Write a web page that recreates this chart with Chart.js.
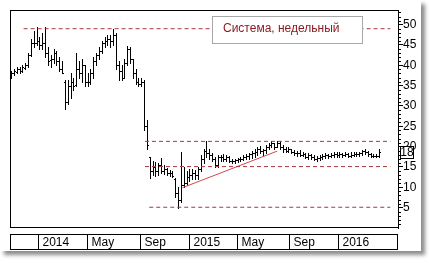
<!DOCTYPE html>
<html>
<head>
<meta charset="utf-8">
<script src="https://cdn.jsdelivr.net/npm/chart.js@4.4.1/dist/chart.umd.min.js"></script>
<style>
  body { margin: 0; background: #fff; }
  #panel { position: absolute; left: 0; top: 0; width: 421px; height: 251px; background: #fff; box-shadow: 4px 4px 4px rgba(0,0,0,0.45); }
  canvas { display: block; }
</style>
</head>
<body>
<div id="panel"><canvas id="chart" width="421" height="251"></canvas></div>
<script>
// weekly bars, one entry per week (index 0 = end of Oct 2013)
var opens = [37.8,38.0,38.3,39.0,38.6,39.4,40.0,42.6,45.4,45.6,
  46.0,45.0,45.5,43.0,41.2,41.5,43.0,41.0,39.0,36.0,
  31.0,35.0,36.0,35.2,39.0,38.0,40.0,36.0,36.0,38.0,
  41.0,42.5,43.5,45.5,46.0,46.5,46.0,47.5,40.0,38.5,
  37.0,40.5,44.0,41.5,38.0,36.0,35.5,36.0,25.0,17.5,
  14.0,15.0,14.0,15.5,14.0,14.5,13.5,13.5,12.0,8.5,
  7.0,10.5,11.0,12.5,13.0,13.5,13.0,14.5,17.0,19.0,
  18.5,18.0,17.0,15.5,17.5,17.5,17.0,17.5,16.5,16.5,
  16.8,17.0,17.0,17.5,17.8,18.2,18.5,18.8,19.5,19.0,
  19.3,20.0,20.5,21.0,20.0,20.8,20.0,19.5,19.0,19.5,
  18.8,18.5,18.5,18.0,18.3,17.5,18.0,17.5,17.0,17.2,
  17.5,17.8,18.0,17.8,18.0,18.2,18.0,18.3,18.0,18.2,
  17.8,18.0,18.3,18.2,18.5,19.0,18.8,18.2,17.8,17.8,
  17.6];
var highs = [38.6,39.0,39.5,39.5,40.0,40.5,43.0,46.5,48.5,49.3,
  47.0,48.0,49.3,44.5,42.5,44.0,43.5,42.0,41.0,36.5,
  36.5,38.0,37.0,43.0,41.0,41.5,40.2,38.0,39.0,42.0,
  43.0,44.5,46.0,47.0,47.5,47.5,49.0,48.0,41.0,40.0,
  41.5,44.7,44.5,41.5,39.0,37.0,37.0,36.5,26.5,17.5,
  16.5,16.2,16.0,17.3,15.5,14.8,14.2,14.0,12.2,10.0,
  18.6,15.0,14.0,14.5,14.5,14.2,15.0,18.0,19.5,21.3,
  19.5,18.5,17.5,18.0,18.0,18.3,18.0,17.8,17.0,17.0,
  17.3,17.5,18.0,18.3,18.5,19.0,19.5,20.0,20.2,19.5,
  20.5,21.0,21.3,21.0,21.5,21.3,20.5,20.0,19.8,19.5,
  19.3,19.0,19.3,18.8,18.5,18.5,18.3,18.0,17.8,18.0,
  18.3,18.5,18.3,18.5,18.6,18.6,18.8,18.5,18.6,18.5,
  18.6,18.8,18.8,18.7,19.3,19.5,19.0,18.5,18.3,18.2,
  19.4];
var lows = [37.0,37.5,38.0,38.0,38.4,39.0,39.5,42.4,44.5,45.0,
  44.0,44.0,42.0,40.0,39.5,40.5,40.0,38.5,38.0,29.3,
  30.5,32.0,34.0,35.0,37.0,36.0,35.0,34.8,35.5,37.0,
  40.0,41.5,43.0,44.5,45.0,44.5,45.0,39.0,36.5,36.5,
  37.0,40.0,40.5,37.0,35.3,34.8,34.8,24.0,19.5,12.2,
  13.0,12.8,13.0,13.5,13.2,13.0,12.8,12.5,7.5,5.0,
  6.5,10.0,10.5,11.5,12.0,12.0,12.0,14.0,16.0,17.5,
  17.0,16.5,15.0,15.0,16.5,16.5,16.5,16.2,16.0,16.0,
  16.2,16.5,16.8,17.0,17.0,17.3,17.5,18.0,18.5,18.0,
  18.5,19.5,19.8,19.5,20.0,19.5,18.8,18.6,18.6,18.5,
  18.0,17.8,17.6,17.6,17.2,17.0,17.0,16.8,16.4,16.8,
  17.0,17.2,17.2,17.4,17.5,17.4,17.5,17.4,17.6,17.5,
  17.5,17.6,17.8,17.7,18.0,18.3,17.8,17.5,17.4,17.4,
  17.5];
var closes = [38.0,38.5,39.0,38.5,39.5,40.0,42.5,45.5,45.5,46.0,
  45.0,45.5,43.0,41.0,41.5,43.0,41.0,39.0,38.2,31.0,
  35.0,36.0,35.0,39.0,38.0,40.0,36.0,36.0,38.0,41.0,
  42.5,43.5,45.5,46.0,46.5,46.0,47.5,40.0,38.5,37.0,
  40.5,44.0,41.5,38.0,36.0,35.5,36.0,25.0,20.5,14.0,
  15.0,14.0,15.5,14.0,14.5,13.5,13.5,12.8,8.5,7.0,
  10.5,11.0,12.5,13.0,13.5,13.0,14.5,17.0,19.0,18.5,
  18.0,17.0,15.5,17.5,17.5,17.0,17.5,16.5,16.5,16.8,
  17.0,17.0,17.5,17.8,18.2,18.5,18.8,19.5,19.0,19.3,
  20.0,20.5,21.0,20.0,20.8,20.0,19.5,19.0,19.5,18.8,
  18.5,18.5,18.0,18.3,17.5,18.0,17.5,17.0,17.2,17.5,
  17.8,18.0,17.8,18.0,18.2,18.0,18.3,18.0,18.2,17.8,
  18.0,18.3,18.2,18.5,19.0,18.8,18.2,17.8,17.8,17.6,
  18.6];

// bottom time axis: week index where each period starts
var monthPos = [9.5, 26.9, 45.6, 62.9, 79.9, 98.2, 115.5];
var monthLabels = ['2014', 'May', 'Sep', '2015', 'May', 'Sep', '2016'];
var yTicks = [5, 10, 15, 20, 25, 30, 35, 40, 45, 50];

// support / resistance levels (dashed) and trend line
var levels = [49.0, 21.3, 15.1, 5.1];
var levelStart = [4.4, 47.3, 47.3, 48.8];
var levelEnd = 134;
var trendWeeks = [60.5, 94];
var trendValues = [9.9, 18.9];
var legendText = 'Система, недельный';

var narrowFont = "'Liberation Sans Narrow', 'Arial Narrow', 'Liberation Sans', Arial, sans-serif";

var datasets = levels.map(function (lvl, k) {
  return {
    data: [{x: levelStart[k], y: lvl}, {x: levelEnd, y: lvl}],
    showLine: true,
    borderColor: '#a8383c',
    borderWidth: 1,
    borderDash: [4, 3],
    pointRadius: 0
  };
});
datasets.push({
  data: trendWeeks.map(function (w, k) { return {x: w, y: trendValues[k]}; }),
  showLine: true,
  borderColor: '#d9444a',
  borderWidth: 1,
  pointRadius: 0
});

var decor = {
  id: 'decor',
  beforeDatasetsDraw: function (chart) {
    var ctx = chart.ctx, xs = chart.scales.x, ys = chart.scales.y;
    ctx.save();
    ctx.strokeStyle = '#000';
    ctx.lineWidth = 1;
    ctx.beginPath();
    for (var i = 0; i < highs.length; i++) {
      var px = Math.round(xs.getPixelForValue(i)) + 0.5;
      var ph = Math.round(ys.getPixelForValue(highs[i]));
      var pl = Math.round(ys.getPixelForValue(lows[i]));
      ctx.moveTo(px, ph);
      ctx.lineTo(px, pl + 1);
      var po = Math.round(ys.getPixelForValue(opens[i])) + 0.5;
      ctx.moveTo(px - 1.5, po);
      ctx.lineTo(px - 0.5, po);
      var pc = Math.round(ys.getPixelForValue(closes[i])) + 0.5;
      ctx.moveTo(px + 0.5, pc);
      ctx.lineTo(px + 1.5, pc);
    }
    ctx.stroke();
    ctx.restore();
  },
  afterDraw: function (chart) {
    var ctx = chart.ctx, xs = chart.scales.x, ys = chart.scales.y;
    var a = chart.chartArea;
    ctx.save();
    ctx.strokeStyle = '#000';
    ctx.lineWidth = 1;

    // plot frame
    ctx.strokeRect(a.left + 0.5, a.top + 0.5, a.right - a.left, a.bottom - a.top - 1);

    // minor ruler ticks on the price axis
    ctx.beginPath();
    for (var v = 1; v < ys.max; v++) {
      if (v % 5 === 0) continue;
      var py = Math.round(ys.getPixelForValue(v)) + 0.5;
      ctx.moveTo(a.right, py);
      ctx.lineTo(a.right + 3, py);
    }
    ctx.stroke();

    // time strip below the plot
    var top = 234, bottom = 249;
    ctx.fillStyle = '#fff';
    ctx.fillRect(a.left, top, a.right - a.left, bottom - top);
    ctx.strokeRect(a.left + 0.5, top + 0.5, a.right - a.left - 1, bottom - top);
    ctx.font = '12px ' + narrowFont;
    ctx.fillStyle = '#000';
    ctx.textBaseline = 'alphabetic';
    ctx.beginPath();
    monthPos.forEach(function (w, k) {
      var px = Math.round(xs.getPixelForValue(w)) + 0.5;
      ctx.moveTo(px, top);
      ctx.lineTo(px, bottom + 1);
      ctx.fillText(monthLabels[k], px + 4, bottom - 3);
    });
    ctx.stroke();

    // legend box
    ctx.fillStyle = '#fff';
    ctx.fillRect(212, 16, 150, 27);
    ctx.strokeStyle = '#a8a8a8';
    ctx.strokeRect(212.5, 16.5, 150, 27);
    ctx.fillStyle = '#8b1c22';
    ctx.font = "12px 'Liberation Sans', Arial, sans-serif";
    ctx.fillText(legendText, 223, 32);

    // last close marker on the axis
    var last = closes[closes.length - 1];
    var ly = Math.round(ys.getPixelForValue(last));
    ctx.fillStyle = '#fff';
    ctx.fillRect(400, ly - 6, 14, 13);
    ctx.strokeStyle = '#000';
    ctx.strokeRect(400.5, ly - 5.5, 13, 12);
    ctx.fillStyle = '#000';
    ctx.font = '12px ' + narrowFont;
    ctx.textAlign = 'center';
    ctx.textBaseline = 'middle';
    ctx.fillText(String(Math.floor(last)), 407, ly + 1);
    ctx.restore();
  }
};

new Chart(document.getElementById('chart'), {
  type: 'scatter',
  data: {datasets: datasets},
  plugins: [decor],
  options: {
    responsive: false,
    animation: false,
    devicePixelRatio: 1,
    layout: {padding: {left: 10, top: 10, right: 0, bottom: 23}},
    plugins: {legend: {display: false}, tooltip: {enabled: false}},
    scales: {
      x: {type: 'linear', min: -0.4, max: 136.7, display: false},
      y: {
        position: 'right',
        min: 0,
        max: 53.6,
        afterBuildTicks: function (scale) {
          scale.ticks = yTicks.map(function (v) { return {value: v}; });
        },
        afterFit: function (scale) { scale.width = 23; },
        grid: {drawOnChartArea: false, tickLength: 5, color: '#000'},
        border: {color: '#000'},
        ticks: {padding: 0, color: '#000', font: {family: narrowFont, size: 12}}
      }
    }
  }
});
</script>
</body>
</html>
